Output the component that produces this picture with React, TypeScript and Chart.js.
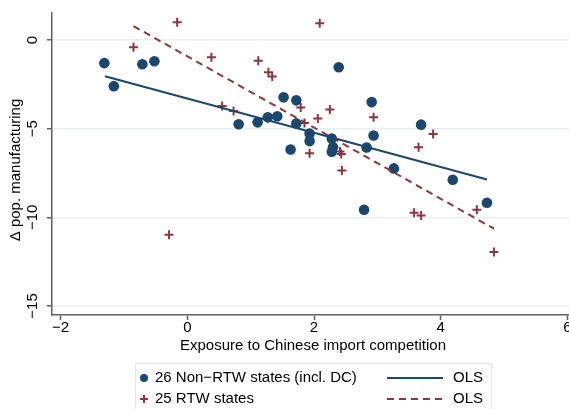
import React, { useEffect, useRef } from "react";
import { Chart, registerables } from "chart.js";
Chart.register(...registerables);

// Non-RTW states (incl. DC)
const nonRtwX = [-1.31, -1.16, -0.71, -0.52, 0.81, 1.11, 1.27, 1.42, 1.52, 1.63, 1.72, 1.72, 2.91, 2.39, 1.93, 1.93, 2.28, 2.30, 2.28, 2.83, 2.94, 3.69, 3.26, 4.19, 4.73, 2.79];
const nonRtwY = [-1.30, -2.60, -1.36, -1.19, -4.75, -4.64, -4.36, -4.30, -3.23, -6.17, -3.40, -4.70, -3.50, -1.53, -5.27, -5.70, -5.55, -6.04, -6.30, -6.06, -5.38, -4.77, -7.24, -7.88, -9.18, -9.57];
// RTW states
const rtwX = [-0.85, -0.16, 0.38, 1.12, 1.28, 1.34, 0.55, 0.73, 1.79, 2.09, 2.25, 2.06, 1.85, 1.93, 2.41, 2.43, 2.44, 2.94, 3.88, 3.65, 3.58, 3.69, 4.57, 4.84, -0.29];
const rtwY = [-0.40, 1.00, -0.97, -1.17, -1.81, -2.05, -3.72, -4.00, -3.80, 0.95, -3.92, -4.43, -4.68, -6.38, -6.28, -6.42, -7.36, -4.35, -5.30, -6.04, -9.74, -9.90, -9.57, -11.96, -10.98];
// OLS fitted lines (end points)
const olsNonRtwX = [-1.30, 4.73];
const olsNonRtwY = [-2.04, -7.87];
const olsRtwX = [-0.85, 4.84];
const olsRtwY = [0.79, -10.64];

const xTicks = [-2, 0, 2, 4, 6];
const yTicks = [0, -5, -10, -15];
const xTitle = "Exposure to Chinese import competition";
const yTitle = "\u0394 pop. manufacturing";
const legendLabels = ["26 Non\u2212RTW states (incl. DC)", "25 RTW states", "OLS", "OLS"];

const BLUE = "#1a476f";
const RED = "#90353b";
const AXIS = "#606060";
const GRID = "#e8f0f2";
const FONT = '"Liberation Sans", Arial, sans-serif';
const FS = 15;

const fmt = (v: number) => (v < 0 ? "\u2212" + Math.abs(v) : String(v));
const pts = (xs: number[], ys: number[]) => xs.map((x, i) => ({ x, y: ys[i] }));

const overlay = {
  id: "overlay",
  afterDraw(chart: any) {
    const ctx = chart.ctx;
    const ys = chart.scales.y;
    ctx.save();
    ctx.fillStyle = "#000";
    ctx.font = `${FS}px ${FONT}`;
    yTicks.forEach((v) => {
      const py = ys.getPixelForValue(v);
      ctx.save();
      ctx.translate(33, py);
      ctx.rotate(-Math.PI / 2);
      ctx.textAlign = "center";
      ctx.textBaseline = "middle";
      ctx.fillText(fmt(v), 0, 0);
      ctx.restore();
    });
    // y axis title
    ctx.save();
    ctx.translate(16, 170);
    ctx.rotate(-Math.PI / 2);
    ctx.textAlign = "center";
    ctx.textBaseline = "middle";
    ctx.fillText(yTitle, 0, 0);
    ctx.restore();
    // x axis title
    ctx.textAlign = "center";
    ctx.textBaseline = "middle";
    ctx.fillText(xTitle, 313, 346);

    // legend
    ctx.fillStyle = "#fff";
    ctx.fillRect(135.5, 363.5, 356, 60);
    ctx.strokeStyle = "#dfe7ec";
    ctx.lineWidth = 1;
    ctx.strokeRect(135.5, 363.5, 356, 60);
    const r1 = 378, r2 = 399;
    ctx.fillStyle = BLUE;
    ctx.beginPath();
    ctx.arc(144, r1, 4, 0, Math.PI * 2);
    ctx.fill();
    ctx.strokeStyle = RED;
    ctx.lineWidth = 2;
    ctx.beginPath();
    ctx.moveTo(140, r2); ctx.lineTo(148, r2);
    ctx.moveTo(144, r2 - 4); ctx.lineTo(144, r2 + 4);
    ctx.stroke();
    ctx.strokeStyle = BLUE;
    ctx.beginPath();
    ctx.moveTo(387, r1); ctx.lineTo(443, r1);
    ctx.stroke();
    ctx.strokeStyle = RED;
    ctx.setLineDash([7, 5]);
    ctx.beginPath();
    ctx.moveTo(387, r2); ctx.lineTo(443, r2);
    ctx.stroke();
    ctx.setLineDash([]);
    ctx.fillStyle = "#000";
    ctx.textAlign = "left";
    ctx.textBaseline = "middle";
    ctx.fillText(legendLabels[0], 155, r1);
    ctx.fillText(legendLabels[1], 155, r2);
    ctx.fillText(legendLabels[2], 453, r1);
    ctx.fillText(legendLabels[3], 453, r2);
    ctx.restore();
  },
};

export default function App() {
  const ref = useRef<HTMLCanvasElement>(null);
  useEffect(() => {
    if (!ref.current) return;
    const chart = new Chart(ref.current, {
      type: "scatter",
      data: {
        datasets: [
          {
            type: "line",
            label: "OLS non-RTW",
            data: pts(olsNonRtwX, olsNonRtwY),
            borderColor: BLUE,
            borderWidth: 2,
            pointRadius: 0,
            fill: false,
            order: 0,
          },
          {
            type: "line",
            label: "OLS RTW",
            data: pts(olsRtwX, olsRtwY),
            borderColor: RED,
            borderWidth: 2,
            borderDash: [7, 5],
            pointRadius: 0,
            fill: false,
            order: 0,
          },
          {
            label: legendLabels[0],
            data: pts(nonRtwX, nonRtwY),
            pointStyle: "circle",
            pointRadius: 5.3,
            backgroundColor: BLUE,
            borderColor: BLUE,
            borderWidth: 0,
            order: 1,
          },
          {
            label: legendLabels[1],
            data: pts(rtwX, rtwY),
            pointStyle: "cross",
            pointRadius: 4.5,
            borderColor: RED,
            backgroundColor: RED,
            borderWidth: 2,
            order: 1,
          },
        ],
      },
      options: {
        animation: false,
        responsive: false,
        layout: { padding: { top: 13, left: 0, right: 0, bottom: 73 } },
        plugins: { legend: { display: false }, tooltip: { enabled: false } },
        scales: {
          x: {
            type: "linear",
            min: -2.136,
            max: 6.38,
            afterBuildTicks: (s: any) => {
              s.ticks = xTicks.map((value) => ({ value }));
            },
            afterFit: (s: any) => {
              s.paddingLeft = 0;
              s.paddingRight = 0;
            },
            ticks: {
              callback: (v: any) => fmt(Number(v)),
              color: "#000",
              font: { family: FONT, size: FS },
              padding: -1,
              maxRotation: 0,
              autoSkip: false,
            },
            grid: {
              drawOnChartArea: false,
              drawTicks: true,
              tickLength: 5,
              tickColor: AXIS,
              tickWidth: 1.5,
            },
            border: { color: AXIS, width: 1.5 },
            title: { display: false },
          },
          y: {
            type: "linear",
            min: -15.51,
            max: 1.528,
            afterBuildTicks: (s: any) => {
              s.ticks = yTicks.map((value) => ({ value }));
            },
            afterFit: (s: any) => {
              s.width = 52;
              s.paddingTop = 0;
              s.paddingBottom = 0;
            },
            ticks: { display: false },
            grid: {
              color: GRID,
              lineWidth: 1.5,
              drawTicks: true,
              tickLength: 5,
              tickColor: AXIS,
              tickWidth: 1.5,
            },
            border: { color: AXIS, width: 1.5 },
            title: { display: false },
          },
        },
      },
      plugins: [overlay],
    } as any);
    return () => chart.destroy();
  }, []);
  return (
    <div style={{ position: "absolute", left: 0, top: 0, width: 569, height: 409, overflow: "hidden", background: "#fff" }}>
      <canvas ref={ref} width={598} height={409} style={{ display: "block" }} />
    </div>
  );
}
